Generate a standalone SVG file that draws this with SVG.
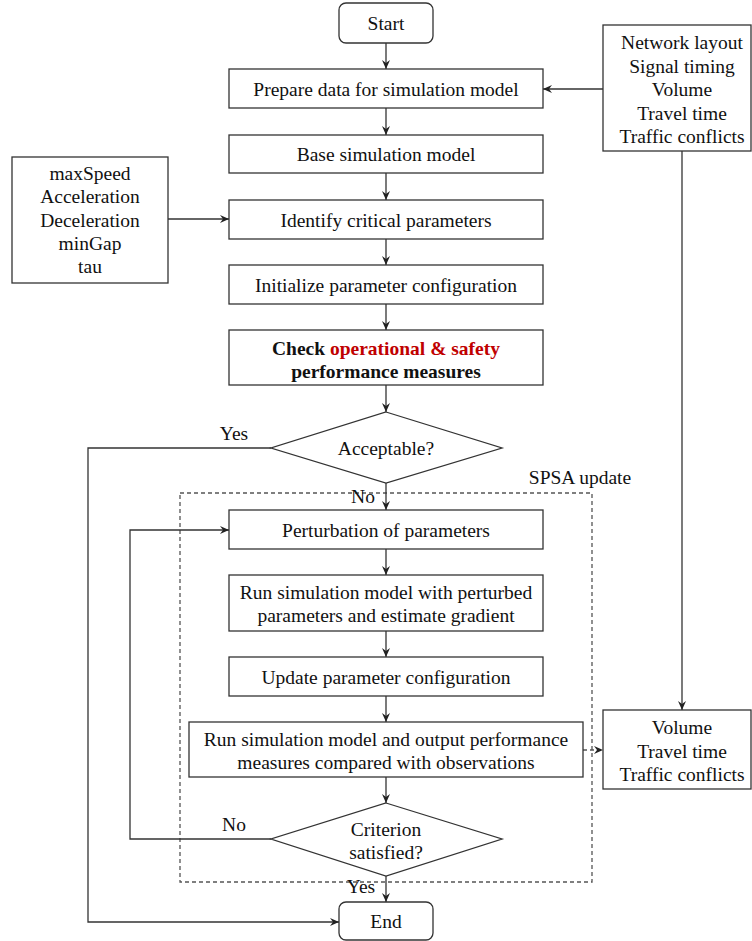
<svg xmlns="http://www.w3.org/2000/svg" width="752" height="941" viewBox="0 0 752 941">
<defs>
<marker id="ah" markerWidth="10" markerHeight="10" refX="9" refY="5" orient="auto" markerUnits="userSpaceOnUse">
<path d="M0,1 L9,5 L0,9 L3,5 Z" fill="#222"/>
</marker>
<style>
.b{fill:#fff;stroke:#333;stroke-width:1.3}
.t{font-family:"Liberation Serif","Times New Roman",serif;font-size:19.5px;fill:#111;text-anchor:middle}
.bold{font-weight:bold}
.c{fill:none;stroke:#333;stroke-width:1.3}
.d{fill:none;stroke:#555;stroke-width:1.3;stroke-dasharray:4,3}
</style>
</defs>
<rect width="752" height="941" fill="#fff"/>
<g id="spsa">
<rect x="180" y="493" width="412" height="389" class="d"/>
<text class="t" x="580" y="484">SPSA update</text>
</g>
<g id="connectors">
<line x1="386" y1="43" x2="386" y2="69" class="c" marker-end="url(#ah)"/>
<line x1="386" y1="108" x2="386" y2="135" class="c" marker-end="url(#ah)"/>
<line x1="386" y1="173" x2="386" y2="200" class="c" marker-end="url(#ah)"/>
<line x1="386" y1="239" x2="386" y2="265" class="c" marker-end="url(#ah)"/>
<line x1="386" y1="304" x2="386" y2="330" class="c" marker-end="url(#ah)"/>
<line x1="386" y1="385" x2="386" y2="412" class="c" marker-end="url(#ah)"/>
<line x1="386" y1="483" x2="386" y2="510" class="c" marker-end="url(#ah)"/>
<line x1="386" y1="549" x2="386" y2="575" class="c" marker-end="url(#ah)"/>
<line x1="386" y1="631" x2="386" y2="657" class="c" marker-end="url(#ah)"/>
<line x1="386" y1="696" x2="386" y2="722" class="c" marker-end="url(#ah)"/>
<line x1="386" y1="777" x2="386" y2="803" class="c" marker-end="url(#ah)"/>
<line x1="386" y1="876" x2="386" y2="902" class="c" marker-end="url(#ah)"/>
<line x1="168" y1="219" x2="229" y2="219" class="c" marker-end="url(#ah)"/>
<line x1="603" y1="89" x2="543" y2="89" class="c" marker-end="url(#ah)"/>
<line x1="682" y1="151" x2="682" y2="710" class="c" marker-end="url(#ah)"/>
<line x1="583" y1="750" x2="603" y2="750" class="d" marker-end="url(#ah)"/>
<polyline points="271,448 88,448 88,922 339,922" class="c" marker-end="url(#ah)"/>
<polyline points="271,839 130,839 130,530 229,530" class="c" marker-end="url(#ah)"/>
<text class="t" x="234" y="440">Yes</text>
<text class="t" x="363" y="503">No</text>
<text class="t" x="234" y="831">No</text>
<text class="t" x="361" y="893">Yes</text>
</g>
<g id="start"><rect x="339" y="3" width="94" height="40" rx="7" class="b"/><text class="t" x="386" y="30">Start</text></g>
<g id="prepare"><rect x="229" y="69" width="314" height="39" class="b"/><text class="t" x="386" y="96">Prepare data for simulation model</text></g>
<g id="base"><rect x="229" y="135" width="314" height="38" class="b"/><text class="t" x="386" y="161">Base simulation model</text></g>
<g id="identify"><rect x="229" y="200" width="314" height="39" class="b"/><text class="t" x="386" y="227">Identify critical parameters</text></g>
<g id="initialize"><rect x="229" y="265" width="314" height="39" class="b"/><text class="t" x="386" y="292">Initialize parameter configuration</text></g>
<g id="check"><rect x="229" y="330" width="314" height="55" class="b"/>
<text class="t bold" x="386" y="355">Check <tspan fill="#c00000">operational &amp; safety</tspan></text>
<text class="t bold" x="386" y="378">performance measures</text></g>
<g id="acceptable"><polygon points="386,412 502,448 386,483 271,448" class="b"/><text class="t" x="386" y="455">Acceptable?</text></g>
<g id="perturb"><rect x="229" y="510" width="314" height="39" class="b"/><text class="t" x="386" y="537">Perturbation of parameters</text></g>
<g id="runpert"><rect x="229" y="575" width="314" height="56" class="b"/>
<text class="t" x="386" y="599">Run simulation model with perturbed</text>
<text class="t" x="386" y="622">parameters and estimate gradient</text></g>
<g id="update"><rect x="229" y="657" width="314" height="39" class="b"/><text class="t" x="386" y="684">Update parameter configuration</text></g>
<g id="runout"><rect x="189" y="722" width="394" height="55" class="b"/>
<text class="t" x="386" y="746">Run simulation model and output performance</text>
<text class="t" x="386" y="769">measures compared with observations</text></g>
<g id="criterion"><polygon points="386,803 502,839 386,876 271,839" class="b"/>
<text class="t" x="386" y="836">Criterion</text>
<text class="t" x="386" y="859">satisfied?</text></g>
<g id="end"><rect x="339" y="902" width="94" height="38" rx="7" class="b"/><text class="t" x="386" y="928">End</text></g>
<g id="params"><rect x="12" y="157" width="156" height="126" class="b"/>
<text class="t" x="90" y="180">maxSpeed</text>
<text class="t" x="90" y="203">Acceleration</text>
<text class="t" x="90" y="227">Deceleration</text>
<text class="t" x="90" y="250">minGap</text>
<text class="t" x="90" y="273">tau</text></g>
<g id="data"><rect x="603" y="25" width="148" height="126" class="b"/>
<text class="t" x="682" y="49">Network layout</text>
<text class="t" x="682" y="73">Signal timing</text>
<text class="t" x="682" y="96">Volume</text>
<text class="t" x="682" y="120">Travel time</text>
<text class="t" x="682" y="143">Traffic conflicts</text></g>
<g id="observed"><rect x="603" y="710" width="148" height="79" class="b"/>
<text class="t" x="682" y="734">Volume</text>
<text class="t" x="682" y="758">Travel time</text>
<text class="t" x="682" y="781">Traffic conflicts</text></g>
</svg>
